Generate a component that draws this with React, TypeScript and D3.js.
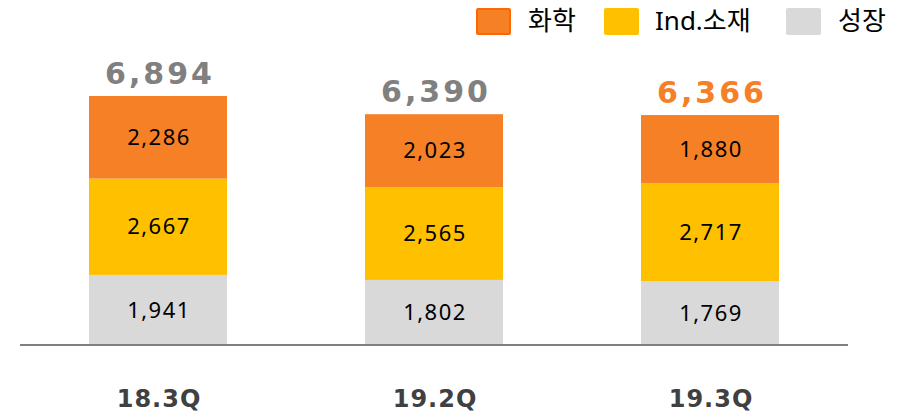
import React from "react";
import * as d3 from "d3";

const categories = ["18.3Q", "19.2Q", "19.3Q"];
const chemical = [2286, 2023, 1880];
const industrial = [2667, 2565, 2717];
const growth = [1941, 1802, 1769];
const totals = [6894, 6390, 6366];
const seriesNames = ["화학", "Ind.소재", "성장"];

const W = 914;
const H = 417;
const baseY = 345;

export default function App() {
  const x = d3.scaleBand<string>().domain(categories).range([20, 848]).paddingInner(0.5).paddingOuter(0.25);
  const y = d3.scaleLinear().domain([0, 6894]).range([baseY, 96]);
  const fmt = d3.format(",");
  const rows = categories.map((c, i) => ({ c, growth: growth[i], industrial: industrial[i], chemical: chemical[i] }));
  const stack = d3.stack<any>().keys(["growth", "industrial", "chemical"])(rows);
  const colors: Record<string, string> = { growth: "#D9D9D9", industrial: "#FFC000", chemical: "#F58026" };
  const font = "'Noto Sans', 'Noto Sans CJK KR', sans-serif";
  const boldFont = "'DejaVu Sans', 'Noto Sans CJK KR', sans-serif";
  const legend = [
    { name: seriesNames[0], fill: "#F58026", stroke: "#FF6600", x: 476, tx: 528 },
    { name: seriesNames[1], fill: "#FFC000", stroke: "#FFC000", x: 604, tx: 655 },
    { name: seriesNames[2], fill: "#D9D9D9", stroke: "#D9D9D9", x: 786, tx: 838 },
  ];
  return (
    <svg width={W} height={H} style={{ position: "absolute", left: 0, top: 0, fontFamily: font }}>
      {stack.map((s) => (
        <g key={s.key}>
          {s.map((d, i) => (
            <g key={i}>
              <rect x={x(categories[i])} y={y(d[1])} width={x.bandwidth()} height={y(d[0]) - y(d[1])} fill={colors[s.key]} />
              <text x={x(categories[i])! + x.bandwidth() / 2 + 1} y={(y(d[0]) + y(d[1])) / 2} dy="0.35em" textAnchor="middle" fontSize={22} letterSpacing={1.5} fill="#000">
                {fmt(d[1] - d[0])}
              </text>
            </g>
          ))}
        </g>
      ))}
      {totals.map((t, i) => (
        <text key={i} x={x(categories[i])! + x.bandwidth() / 2 + 2} y={y(t) - 23} dy="0.35em" textAnchor="middle" fontFamily={boldFont} fontSize={30} letterSpacing={3} fontWeight="bold" fill={i === totals.length - 1 ? "#F58026" : "#808080"}>
          {fmt(t)}
        </text>
      ))}
      <line x1={20} x2={848} y1={baseY} y2={baseY} stroke="#808080" strokeWidth={2} />
      {categories.map((c) => (
        <text key={c} x={x(c)! + x.bandwidth() / 2 + 1} y={399} dy="0.35em" textAnchor="middle" fontFamily={boldFont} fontSize={24} letterSpacing={1} fontWeight="bold" fill="#404040">
          {c}
        </text>
      ))}
      {legend.map((l) => (
        <g key={l.name}>
          <rect x={l.x + 1} y={9} width={33} height={25} fill={l.fill} stroke={l.stroke} strokeWidth={2} rx={1} />
          <text x={l.tx} y={21} dy="0.35em" fontSize={26} fill="#000">{l.name}</text>
        </g>
      ))}
    </svg>
  );
}
